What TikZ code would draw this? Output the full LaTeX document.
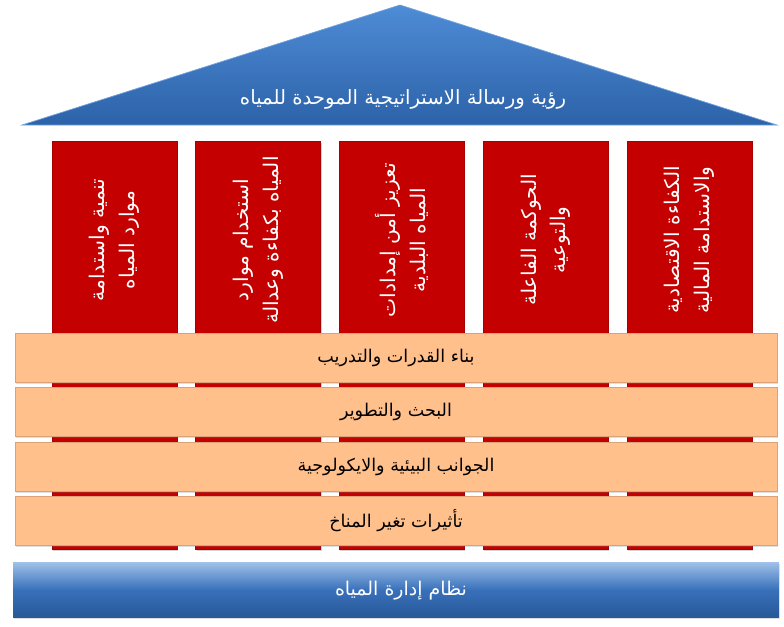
\documentclass[tikz,border=0pt]{standalone}
\usepackage{fontspec}
\newfontfamily\arabicfont[Script=Arabic]{DejaVu Sans}
\TeXXeTstate=1
\usetikzlibrary{shadows}
\newcommand{\artext}[1]{\beginR#1\endR}
\definecolor{pillarred}{HTML}{C40000}
\definecolor{bandpeach}{HTML}{FFC08C}
\definecolor{rooftop}{HTML}{4E8CD6}
\definecolor{roofbottom}{HTML}{2C62A8}
\definecolor{basemid}{HTML}{3870BA}
\tikzstyle{pillar}=[rectangle,minimum width=2.5cm,minimum height=8.16cm,inner sep=0,fill=pillarred,draw=pillarred!85!black,drop shadow={opacity=0.35,shadow xshift=0.5pt,shadow yshift=-1pt}]
\tikzstyle{pillartext}=[rotate=90,text=white,align=center,inner sep=0,font=\arabicfont\fontsize{11.5}{17}\selectfont]
\tikzstyle{band}=[rectangle,minimum width=15.24cm,minimum height=0.98cm,inner sep=0,fill=bandpeach,draw=bandpeach!85!black,font=\arabicfont\fontsize{10}{12}\selectfont,drop shadow={opacity=0.25,shadow xshift=0.5pt,shadow yshift=-1pt}]
\tikzstyle{basebar}=[rectangle,minimum width=15.32cm,minimum height=1.1cm,inner sep=0,top color=rooftop!55!white,bottom color=roofbottom!90!black,middle color=basemid,drop shadow={opacity=0.25,shadow xshift=0.5pt,shadow yshift=-1pt}]

\begin{document}
\begin{tikzpicture}[x=0.02cm,y=-0.02cm]
\useasboundingbox (0,0) rectangle (784,626);
% pillars
\foreach \i/\txt in {0/{\artext{تنمية واستدامة}\\\artext{موارد المياه}},
	1/{\artext{استخدام موارد}\\\artext{المياه بكفاءة وعدالة}},
	2/{\artext{تعزيز أمن إمدادات}\\\artext{المياه البلدية}},
	3/{\artext{الحوكمة الفاعلة}\\\artext{والتوعية}},
	4/{\artext{الكفاءة الاقتصادية}\\\artext{والاستدامة المالية}}}{
	\node[pillar] (pillar\i) at (114.5+143.75*\i,345) {};
	\node[pillartext] (pillartext\i) at (114.5+143.75*\i,240) {\txt};
}
% bands
\foreach \j/\txt in {0/{بناء القدرات والتدريب},1/{البحث والتطوير},2/{الجوانب البيئية والايكولوجية},3/{تأثيرات تغير المناخ}}{
	\node[band] (band\j) at (396,357.5+54.5*\j) {\artext{\txt}};
}
% roof
\draw[top color=rooftop,bottom color=roofbottom,draw=rooftop!80!white] (22,125)--(400,5)--(777,125)--cycle;
\node[text=white,font=\arabicfont\fontsize{11.2}{13}\selectfont] (vision) at (403,99) {\artext{رؤية ورسالة الاستراتيجية الموحدة للمياه}};
% foundation
\node[basebar] (base) at (396,590) {};
\node[text=white,font=\arabicfont\fontsize{10.8}{13}\selectfont] (basetext) at (401,591) {\artext{نظام إدارة المياه}};
\end{tikzpicture}
\end{document}
